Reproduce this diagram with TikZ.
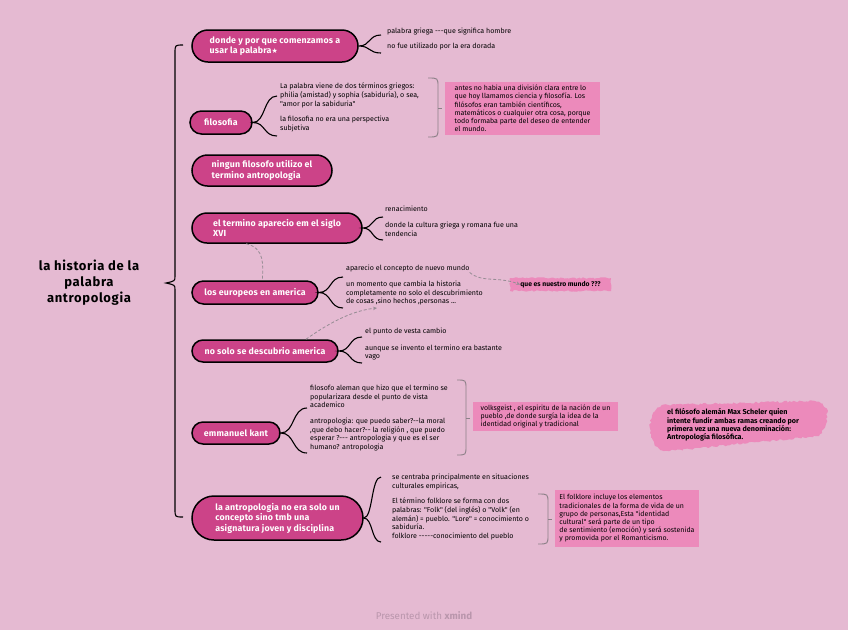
\documentclass[tikz,border=0pt]{standalone}
\usepackage{fontspec}
\newfontfamily\tf{Fira Sans}
\newfontfamily\tfw{Fira Sans}[LetterSpace=5]
\newfontfamily\tfp{Fira Sans}[LetterSpace=2]
\newfontfamily\symf{DejaVu Sans}
\usetikzlibrary{shapes.misc,decorations.pathmorphing,arrows.meta,calc}
\definecolor{bgc}{RGB}{229,186,210}
\definecolor{pillc}{RGB}{204,67,136}
\definecolor{boxc}{RGB}{236,138,187}
\definecolor{grayc}{RGB}{140,128,136}
\definecolor{relc}{RGB}{150,140,148}
\definecolor{footc}{RGB}{185,150,172}
\newcommand\brc[6]{% node, tip x, tip y, end x, top y, bottom y
  \pgfmathsetmacro\xa{#2+0.55*(#4-#2)}%
  \pgfmathsetmacro\xb{#2+0.45*(#4-#2)}%
  \draw[kbrace] (#4,#5) .. controls (\xb,#5) and (\xa,#3) .. (#1.east) .. controls (\xa,#3) and (\xb,#6) .. (#4,#6);
}
\newcommand\sbr[5]{% left x, top y, bottom y, vertical x, tick y
  \draw[sumbr] (#1,#2) .. controls (#4,#2) .. (#4,#2+9) -- (#4,#3-9) .. controls (#4,#3) .. (#1,#3);
  \draw[sumbr] (#4,#5) -- ++(4,0);
}
\begin{document}
\begin{tikzpicture}[x=1pt,y=-1pt,
  pill/.style={rounded rectangle, draw=black, line width=1.5pt, fill=pillc, text=white,
    font=\tfp\bfseries\fontsize{8.8}{10.5}\selectfont, align=left, inner sep=0pt},
  txt/.style={anchor=north west, inner sep=0pt, align=left, font=\tf\fontsize{7.1}{8.6}\selectfont},
  box/.style={fill=boxc, inner sep=0pt, align=left, font=\tf\fontsize{7}{8.2}\selectfont},
  kbrace/.style={draw=black, line width=1.1pt},
  sumbr/.style={draw=grayc, line width=0.9pt},
  rel/.style={draw=relc, line width=0.8pt, dash pattern=on 3pt off 2pt},
  relarrow/.style={rel, -{Stealth[length=4pt,width=3.5pt]}},
]
\fill[bgc] (0,0) rectangle (848,630);
\useasboundingbox (0,0) rectangle (848,630);

% main brace
\node[font=\tfw\bfseries\fontsize{13}{16}\selectfont, align=center] (title) at (89,283) {la historia de la\\palabra\\antropologia};
\coordinate (mt) at (183,45);
\coordinate (mb) at (183,517);
\coordinate (mc) at (166,283);
\draw[kbrace] (mt) .. controls (175,45) .. (175,53) -- (175,276) .. controls (175,281) .. (mc)
  .. controls (175,285) .. (175,290) -- (175,509) .. controls (175,517) .. (mb);

% pills
\node[pill, minimum width=166pt, minimum height=32pt] (p1) at (275,46) {donde y por que comenzamos a\\usar la palabra{\symf\fontsize{7}{8}\selectfont ★}};
\node[pill, minimum width=62pt, minimum height=23pt] (p2) at (221,122.5) {filosofia};
\node[pill, minimum width=140pt, minimum height=31pt] (p3) at (262,170.5) {ningun filosofo utilizo el\\termino antropologia};
\node[pill, minimum width=170pt, minimum height=30pt] (p4) at (277,228) {el termino aparecio em el siglo\\XVI};
\node[pill, minimum width=126pt, minimum height=23pt] (p5) at (255,292.5) {los europeos en america};
\node[pill, minimum width=146pt, minimum height=22pt] (p6) at (265,351) {no solo se descubrio america};
\node[pill, minimum width=88pt, minimum height=22pt] (p7) at (236,433) {emmanuel kant};
\node[pill, minimum width=171pt, minimum height=44pt] (p8) at (277.5,518) {la antropologia no era solo un\\concepto sino tmb una\\asignatura joven y disciplina};

% child texts
\node[txt] (c1a) at (387,27.5) {palabra griega ---que significa hombre};
\node[txt] (c1b) at (387,42.5) {no fue utilizado por la era dorada};
\node[txt] (c2a) at (280,83) {La palabra viene de dos términos griegos:\\philia (amistad) y sophia (sabiduría), o sea,\\"amor por la sabiduria"};
\node[txt] (c2b) at (280,116) {la filosofia no era una perspectiva\\subjetiva};
\node[txt] (c4a) at (385,206) {renacimiento};
\node[txt] (c4b) at (385,222) {donde la cultura griega y romana fue una\\tendencia};
\node[txt] (c5a) at (346,265) {aparecio el concepto de nuevo mundo};
\node[txt] (c5b) at (346,281) {un momento que cambia la historia\\completamente no solo el descubrimiento\\de cosas ,sino hechos ,personas ...};
\node[txt] (c6a) at (365,327.5) {el punto de vesta cambio};
\node[txt] (c6b) at (365,344.5) {aunque se invento el termino era bastante\\vago};
\node[txt] (c7a) at (310,385) {filosofo aleman que hizo que el termino se\\popularizara desde el punto de vista\\academico};
\node[txt] (c7b) at (310,418) {antropologia: que puedo saber?--la moral\\,que debo hacer?-- la religión , que puedo\\esperar ?--- antropologia y que es el ser\\humano? antropologia};
\node[txt] (c8a) at (392,474) {se centraba principalmente en situaciones\\culturales empiricas,};
\node[txt] (c8b) at (392,498) {El término folklore se forma con dos\\palabras: "Folk" (del inglés) o "Volk" (en\\alemán) = pueblo. "Lore" = conocimiento o\\sabiduría.\\folklore -----conocimiento del pueblo};

% braces
\brc{p1}{358}{46}{381}{35}{53}
\brc{p2}{252}{122.5}{277}{96}{136}
\brc{p4}{362}{228}{383}{217}{240}
\brc{p5}{318}{292.5}{343}{277}{308}
\brc{p6}{338}{351}{362}{337}{363}
\brc{p7}{280}{433}{307}{408}{453}
\brc{p8}{363}{518}{381}{477}{542}

% summaries
\sbr{428}{78}{137}{438}{108}
\sbr{457}{380}{455}{466}{418}
\sbr{538}{494}{544}{548}{519}

\node[box, minimum width=155pt, minimum height=53pt] (bx2) at (522.5,108.5) {antes no habia una división clara entre lo\\que hoy llamamos ciencia y filosofía. Los\\filósofos eran también científicos,\\matemáticos o cualquier otra cosa, porque\\todo formaba parte del deseo de entender\\el mundo.};
\node[box, minimum width=145pt, minimum height=29pt] (bx7) at (545.5,416.5) {volksgeist , el espiritu de la nación de un\\pueblo ,de donde surgía la idea de la\\identidad original y tradicional};
\node[box, minimum width=144pt, minimum height=57pt] (bx8) at (627,518.5) {El folklore incluye los elementos\\tradicionales de la forma de vida de un\\grupo de personas,Esta "identidad\\cultural" será parte de un tipo\\de sentimiento (emoción) y será sostenida\\y promovida por el Romanticismo.};

% rough callouts
\fill[boxc, decorate, decoration={random steps, segment length=2pt, amplitude=0.8pt}] (510,278) rectangle (611,291);
\node[font=\tf\bfseries\fontsize{6.8}{8}\selectfont, inner sep=0pt] (q) at (560.5,284.5) {que es nuestro mundo ???};
\fill[boxc, decorate, decoration={random steps, segment length=2pt, amplitude=1pt}]
  (662,405) -- (815,401) .. controls (830,403) and (831,421) .. (819,436) -- (668,451) .. controls (647,452) and (644,412) .. cycle;
\node[txt, font=\tf\bfseries\fontsize{7.2}{8.4}\selectfont] (ms) at (667,408.5) {el filósofo alemán Max Scheler quien\\intente fundir ambas ramas creando por\\primera vez una nueva denominación:\\Antropología filosófica.};

% relationships
\coordinate (e6) at (377,308);
\draw[rel] (p4.207) .. controls (265,248) and (263,265) .. (p5.59);
\draw[relarrow] (c5a.south east) .. controls (482,283) and (497,276) .. (q.west);
\draw[relarrow] (p6.16) .. controls (322,328) and (348,311) .. (e6);

\node[font=\tf\fontsize{9.8}{11}\selectfont, text=footc] (ft) at (424,616) {Presented with \textbf{xmind}};
\end{tikzpicture}
\end{document}
